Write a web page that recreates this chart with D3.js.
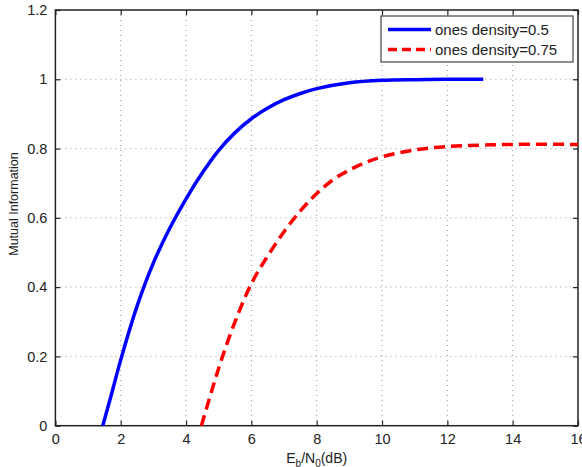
<!DOCTYPE html>
<html>
<head>
<meta charset="utf-8">
<script src="https://cdn.jsdelivr.net/npm/d3@7"></script>
<style>
  body { margin: 0; background: #fff; }
  svg { display: block; font-family: "Liberation Sans", Arial, sans-serif; }
</style>
</head>
<body>
<div id="chart"></div>
<script>
// values
const snrHalf = [1.45, 1.7, 2, 2.5, 3, 3.5, 4, 4.5, 5, 5.5, 6, 6.5, 7, 7.5, 8, 9, 10, 11, 12, 13.1];
const miHalf  = [0, 0.085, 0.19, 0.345, 0.47, 0.57, 0.655, 0.73, 0.795, 0.846, 0.886, 0.917, 0.941, 0.959, 0.973, 0.99, 0.997, 0.999, 1.0, 1.0];
const snrQuarter = [4.47, 4.8, 5.1, 5.5, 6, 6.5, 7, 7.5, 8, 8.5, 9, 9.5, 10, 11, 12, 13, 14, 16];
const miQuarter  = [0, 0.105, 0.195, 0.3, 0.41, 0.49, 0.56, 0.62, 0.67, 0.71, 0.738, 0.76, 0.776, 0.796, 0.806, 0.81, 0.812, 0.812];
const xTicks = [0, 2, 4, 6, 8, 10, 12, 14, 16];
const yTicks = [0, 0.2, 0.4, 0.6, 0.8, 1, 1.2];
const seriesNames = ["ones density=0.5", "ones density=0.75"];

const W = 582, H = 467, pad = { t: 10, r: 4, b: 41.3, l: 55.4 };
const iW = W - pad.l - pad.r, iH = H - pad.t - pad.b;

const svg = d3.select("#chart").append("svg").attr("width", W).attr("height", H);
const g = svg.append("g").attr("transform", `translate(${pad.l},${pad.t})`);

const x = d3.scaleLinear().domain([0, 16]).range([0, iW]);
const y = d3.scaleLinear().domain([0, 1.2]).range([iH, 0]);

// dotted grid
g.selectAll("line.gx").data(xTicks.slice(1, -1)).join("line")
  .attr("x1", d => x(d)).attr("x2", d => x(d)).attr("y1", 0).attr("y2", iH)
  .attr("stroke", "#999").attr("stroke-width", 1).attr("stroke-dasharray", "1,4");
g.selectAll("line.gy").data(yTicks.slice(1, -1)).join("line")
  .attr("y1", d => y(d)).attr("y2", d => y(d)).attr("x1", 0).attr("x2", iW)
  .attr("stroke", "#999").attr("stroke-width", 1).attr("stroke-dasharray", "1,4");

// axes with inward ticks, box style
const fmt = d => d3.format("~g")(d);
const axB = g.append("g").attr("transform", `translate(0,${iH})`)
  .call(d3.axisBottom(x).tickValues(xTicks).tickSize(-5).tickPadding(8).tickFormat(fmt));
const axT = g.append("g").call(d3.axisTop(x).tickValues(xTicks).tickSize(-5).tickFormat(""));
const axL = g.append("g")
  .call(d3.axisLeft(y).tickValues(yTicks).tickSize(-5).tickPadding(8).tickFormat(fmt));
const axR = g.append("g").attr("transform", `translate(${iW},0)`)
  .call(d3.axisRight(y).tickValues(yTicks).tickSize(-5).tickFormat(""));
[axB, axT, axL, axR].forEach(a => {
  a.select(".domain").remove();
  a.selectAll("line").attr("stroke", "#222").attr("stroke-width", 1.2);
  a.selectAll("text").attr("font-size", 14.5).attr("fill", "#222")
    .attr("font-family", "Liberation Sans, Arial, sans-serif");
});
g.append("rect").attr("width", iW).attr("height", iH)
  .attr("fill", "none").attr("stroke", "#222").attr("stroke-width", 1.5);

// curves
const line = d3.line().x(d => x(d[0])).y(d => y(d[1])).curve(d3.curveCatmullRom.alpha(0.5));
g.append("path").datum(d3.zip(snrHalf, miHalf)).attr("d", line)
  .attr("fill", "none").attr("stroke", "#0000ff").attr("stroke-width", 3.5);
g.append("path").datum(d3.zip(snrQuarter, miQuarter)).attr("d", line)
  .attr("fill", "none").attr("stroke", "#ff0000").attr("stroke-width", 3.5)
  .attr("stroke-dasharray", "11,6");

// axis labels
const xl = svg.append("text").attr("x", pad.l + iW / 2).attr("y", 463)
  .attr("text-anchor", "middle").attr("font-size", 14).attr("fill", "#222");
xl.append("tspan").text("E");
xl.append("tspan").attr("font-size", 10).attr("dy", 4).text("b");
xl.append("tspan").attr("dy", -4).text("/N");
xl.append("tspan").attr("font-size", 10).attr("dy", 4).text("0");
xl.append("tspan").attr("dy", -4).text("(dB)");

svg.append("text").attr("transform", "translate(18,204) rotate(-90)")
  .attr("text-anchor", "middle").attr("font-size", 12.5).attr("fill", "#222")
  .text("Mutual Information");

// legend
const lg = svg.append("g").attr("transform", "translate(381,16)");
lg.append("rect").attr("width", 192).attr("height", 46)
  .attr("fill", "#fff").attr("stroke", "#444").attr("stroke-width", 1.2);
const styles = [{ c: "#0000ff", dash: null }, { c: "#ff0000", dash: "9,5" }];
seriesNames.forEach((name, i) => {
  const row = lg.append("g").attr("transform", `translate(0,${13.5 + i * 20})`);
  row.append("line").attr("x1", 7).attr("x2", 50)
    .attr("stroke", styles[i].c).attr("stroke-width", 3.5)
    .attr("stroke-dasharray", styles[i].dash);
  row.append("text").attr("x", 54).attr("dy", "0.35em")
    .attr("font-size", 15).attr("fill", "#222").text(name);
});
</script>
</body>
</html>
